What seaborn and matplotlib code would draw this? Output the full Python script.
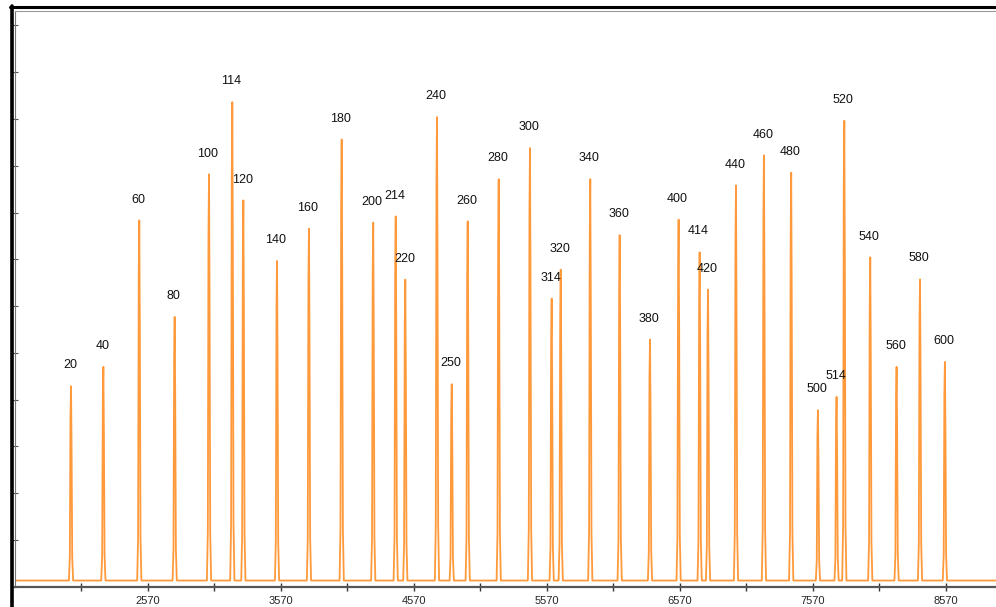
import numpy as np
import pandas as pd
import seaborn as sns
import matplotlib.pyplot as plt
from matplotlib.lines import Line2D

# fragment sizes (peak labels)
sizes = ["20", "40", "60", "80", "100", "114", "120", "140", "160", "180",
         "200", "214", "220", "240", "250", "260", "280", "300", "314", "320",
         "340", "360", "380", "400", "414", "420", "440", "460", "480", "500",
         "514", "520", "540", "560", "580", "600"]
# peak positions (scan units)
peak_pos = [1995, 2238, 2508, 2774, 3032, 3207, 3290, 3543, 3783, 4029,
            4266, 4435, 4507, 4745, 4856, 4976, 5209, 5444, 5607, 5675,
            5897, 6118, 6346, 6561, 6719, 6782, 6992, 7202, 7407, 7608,
            7748, 7806, 8001, 8199, 8375, 8562]
# peak heights (RFU)
peak_height = [2143, 2350, 3916, 2884, 4408, 5180, 4130, 3482, 3828, 4781,
               3892, 3959, 3283, 5020, 2165, 3906, 4357, 4689, 3080, 3390,
               4357, 3759, 2642, 3924, 3575, 3176, 4290, 4611, 4426, 1887,
               2029, 4981, 3521, 2350, 3286, 2403]
baseline = 66
x_range = (1574, 8946)

# each peak drawn as a narrow spike around its position
profile_dx = [-16, -9, -4, 0, 4, 9, 16]
profile_frac = [0.0, 0.12, 0.85, 1.0, 0.7, 0.12, 0.0]

xs = [x_range[0]]
ys = [baseline]
for p, h in zip(peak_pos, peak_height):
    for dx, f in zip(profile_dx, profile_frac):
        xs.append(p + dx)
        ys.append(baseline + f * (h - baseline))
xs.append(x_range[1])
ys.append(baseline)
trace = pd.DataFrame({"scan": xs, "rfu": ys})

sns.set_style("white")
plt.rcParams["font.family"] = ["Liberation Sans", "DejaVu Sans"]

fig = plt.figure(figsize=(9.96, 6.07), dpi=100)
ax = fig.add_axes([15 / 996, 20.3 / 607, 1 - 15 / 996, 1 - 20.3 / 607 - 10.5 / 607])

sns.lineplot(data=trace, x="scan", y="rfu", ax=ax, color="#FF9A3C",
             linewidth=1.3, estimator=None, sort=False)

for lab, p, h in zip(sizes, peak_pos, peak_height):
    ax.annotate(lab, (p, h), xytext=(-0.7, 15), textcoords="offset points",
                ha="center", va="center", fontsize=9, color="#111111")

ax.set_xlim(*x_range)
ax.set_ylim(0, 6160)
ax.set_xticks(np.arange(2570, 8571, 1000))
ax.set_xticks(np.arange(2070, 8071, 1000), minor=True)
ax.set_yticks(np.arange(0, 6001, 500))
ax.set_yticklabels([])
ax.tick_params(axis="x", which="both", direction="inout", length=6, width=1,
               color="#333333", labelsize=8, pad=4)
ax.tick_params(axis="y", direction="inout", length=5, width=0.8, color="#555555")
ax.tick_params(axis="y", left=True)
ax.tick_params(axis="x", which="both", bottom=True)
ax.set_xlabel("")
ax.set_ylabel("")

ax.spines["right"].set_visible(False)
ax.spines["bottom"].set_color("#555555")
ax.spines["bottom"].set_linewidth(1.6)
ax.spines["left"].set_color("#777777")
ax.spines["left"].set_linewidth(0.8)
ax.spines["top"].set_color("#999999")
ax.spines["top"].set_linewidth(0.8)

# window frame edges
fig.add_artist(Line2D([11.5 / 996, 11.5 / 996], [0, 1 - 5.5 / 607],
                      transform=fig.transFigure, color="black", linewidth=2.6))
fig.add_artist(Line2D([10 / 996, 1], [1 - 7 / 607, 1 - 7 / 607],
                      transform=fig.transFigure, color="black", linewidth=2.2))

fig.savefig("out.png", dpi=100)
